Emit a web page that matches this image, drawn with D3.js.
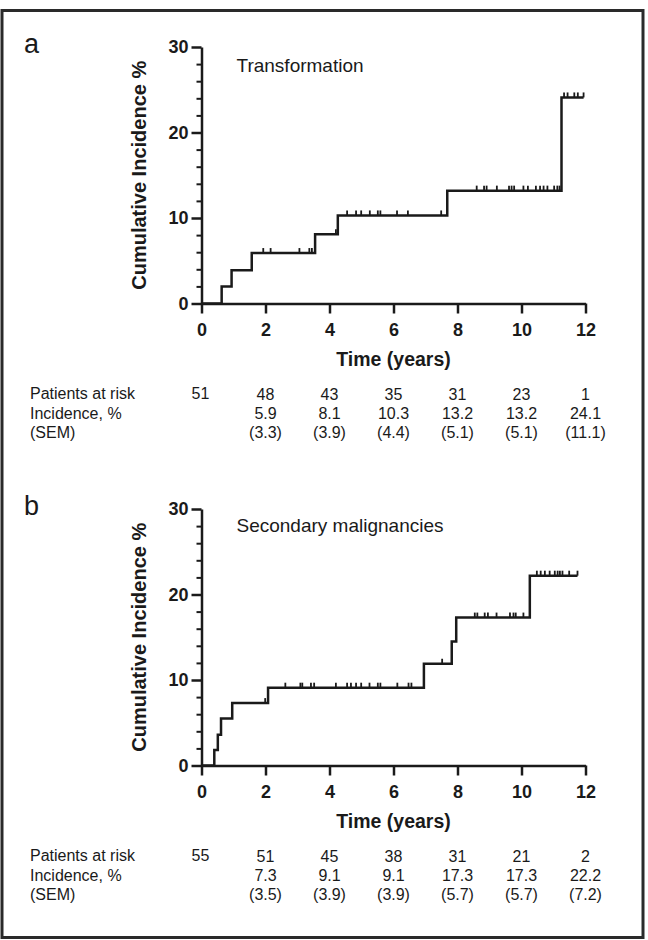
<!DOCTYPE html>
<html><head><meta charset="utf-8">
<script src="https://cdn.jsdelivr.net/npm/d3@7"></script>
<style>
body{margin:0;background:#fff}
svg{display:block}
text{font-family:"Liberation Sans",Arial,Helvetica,sans-serif;fill:#1a1a1a}
</style>
</head><body>
<svg id="chart" width="648" height="940"></svg>
<script>
// ---------- data ----------
const timeTicks = [0, 2, 4, 6, 8, 10, 12];
const yMajorTicks = [0, 10, 20, 30];
const yMinorTicks = [2, 4, 6, 8, 12, 14, 16, 18, 22, 24, 26, 28];
const tableRowLabels = ["Patients at risk", "Incidence, %", "(SEM)"];

// Panel a: Transformation
const aTitle = "Transformation";
const aEventTimes  = [0.63, 0.94, 1.57, 3.55, 4.26, 7.68, 11.25];
const aEventValues = [2.0, 3.9, 5.9, 8.1, 10.3, 13.2, 24.1];
const aEndTime = 11.94;
const aCensorTimes = [1.93, 2.16, 3.06, 3.37, 3.45, 4.20, 4.55, 4.83, 4.99, 5.26, 5.51, 5.59,
  6.11, 6.45, 7.49, 8.60, 8.83, 8.91, 9.23, 9.61, 9.69, 9.77, 10.06, 10.20, 10.45, 10.58,
  10.69, 10.81, 11.02, 11.12, 11.19, 11.33, 11.44, 11.65, 11.76, 11.94];
const aAtRisk = ["51", "48", "43", "35", "31", "23", "1"];
const aIncidence = ["", "5.9", "8.1", "10.3", "13.2", "13.2", "24.1"];
const aSEM = ["", "(3.3)", "(3.9)", "(4.4)", "(5.1)", "(5.1)", "(11.1)"];

// Panel b: Secondary malignancies
const bTitle = "Secondary malignancies";
const bEventTimes  = [0.40, 0.51, 0.61, 0.96, 2.08, 6.95, 7.82, 7.96, 10.26];
const bEventValues = [1.8, 3.6, 5.5, 7.3, 9.1, 11.9, 14.5, 17.3, 22.2];
const bEndTime = 11.75;
const bCensorTimes = [1.99, 2.62, 3.09, 3.15, 3.42, 3.52, 4.20, 4.55, 4.67, 4.83, 4.99, 5.25,
  5.51, 5.59, 6.12, 6.47, 6.56, 7.52, 8.54, 8.62, 8.85, 8.95, 9.22, 9.64, 9.75, 9.82, 10.06,
  10.48, 10.60, 10.73, 10.88, 11.04, 11.13, 11.20, 11.28, 11.49, 11.75];
const bAtRisk = ["55", "51", "45", "38", "31", "21", "2"];
const bIncidence = ["", "7.3", "9.1", "9.1", "17.3", "17.3", "22.2"];
const bSEM = ["", "(3.5)", "(3.9)", "(3.9)", "(5.7)", "(5.7)", "(7.2)"];

// ---------- drawing ----------
const svg = d3.select("#chart");
const ink = "#1a1a1a";

// outer frame
svg.append("rect").attr("x", 2).attr("y", 10.5).attr("width", 641).attr("height", 927)
  .attr("fill", "none").attr("stroke", "#2a2a2a").attr("stroke-width", 3);

function drawPanel(opt) {
  const g = svg.append("g").attr("transform", `translate(0,${opt.dy})`);
  const x = d3.scaleLinear().domain([0, 12]).range([201.5, 585.5]);
  const y = d3.scaleLinear().domain([0, 30]).range([303.5, 47]);

  // panel letter
  g.append("text").attr("x", 24).attr("y", 53).attr("font-size", 27).text(opt.letter);

  // minor y ticks
  g.append("g").attr("transform", `translate(${x(0)},0)`)
    .call(d3.axisLeft(y).tickValues(yMinorTicks).tickSize(5).tickFormat("").tickSizeOuter(0))
    .call(s => s.select(".domain").remove())
    .call(s => s.selectAll("line").attr("stroke", ink).attr("stroke-width", 2));

  // major y axis
  const ya = g.append("g").attr("transform", `translate(${x(0)},0)`)
    .call(d3.axisLeft(y).tickValues(yMajorTicks).tickSize(10).tickPadding(3).tickSizeOuter(0));
  ya.select(".domain").attr("stroke", ink).attr("stroke-width", 2.5);
  ya.selectAll("line").attr("stroke", ink).attr("stroke-width", 2.5);
  ya.selectAll("text").attr("font-size", 18).attr("font-weight", "bold")
    .attr("font-family", '"Liberation Sans",Arial,sans-serif').attr("fill", ink);

  // x axis
  const xa = g.append("g").attr("transform", `translate(0,${y(0)})`)
    .call(d3.axisBottom(x).tickValues(timeTicks).tickSize(10).tickPadding(9.7).tickSizeOuter(0));
  xa.select(".domain").attr("stroke", ink).attr("stroke-width", 2.5);
  xa.selectAll("line").attr("stroke", ink).attr("stroke-width", 2.5);
  xa.selectAll("text").attr("font-size", 18).attr("font-weight", "bold")
    .attr("font-family", '"Liberation Sans",Arial,sans-serif').attr("fill", ink);

  // axis titles
  g.append("text").attr("transform", `translate(146,${(y(0) + y(30)) / 2}) rotate(-90)`)
    .attr("text-anchor", "middle").attr("font-size", 20).attr("font-weight", "bold")
    .text("Cumulative Incidence %");
  g.append("text").attr("x", x(6)).attr("y", 366).attr("text-anchor", "middle")
    .attr("font-size", 19.5).attr("font-weight", "bold").text("Time (years)");

  // chart title
  g.append("text").attr("x", 236.5).attr("y", 72 - opt.titleShift).attr("font-size", 19).text(opt.title);

  // step curve
  const pts = [[0, 0]].concat(opt.times.map((t, i) => [t, opt.values[i]]));
  pts.push([opt.end, opt.values[opt.values.length - 1]]);
  const line = d3.line().x(d => x(d[0])).y(d => y(d[1])).curve(d3.curveStepAfter);
  g.append("path").datum(pts).attr("d", line).attr("fill", "none")
    .attr("stroke", ink).attr("stroke-width", 2.5).attr("stroke-linejoin", "miter");

  // censor marks
  const valueAt = t => {
    let v = 0;
    opt.times.forEach((et, i) => { if (et <= t) v = opt.values[i]; });
    return v;
  };
  g.append("g").selectAll("line").data(opt.censor).join("line")
    .attr("x1", d => x(d)).attr("x2", d => x(d))
    .attr("y1", d => y(valueAt(d))).attr("y2", d => y(valueAt(d)) - 5)
    .attr("stroke", ink).attr("stroke-width", 1.8);

  // risk table
  const rows = [399, 418.5, 438];
  tableRowLabels.forEach((lab, i) => {
    g.append("text").attr("x", 30).attr("y", rows[i]).attr("font-size", 16).text(lab);
  });
  const cols = [opt.atRisk, opt.incidence, opt.sem];
  cols.forEach((arr, r) => {
    g.append("g").selectAll("text").data(arr).join("text")
      .attr("x", (d, i) => i === 0 ? x(0) - 1 : x(timeTicks[i]))
      .attr("y", (d, i) => rows[r] + (r === 0 && i > 0 ? 1 : 0))
      .attr("text-anchor", "middle").attr("font-size", 16).text(d => d);
  });
}

drawPanel({letter: "a", dy: 0, title: aTitle, titleShift: 0,
  times: aEventTimes, values: aEventValues, end: aEndTime, censor: aCensorTimes,
  atRisk: aAtRisk, incidence: aIncidence, sem: aSEM});
drawPanel({letter: "b", dy: 462, title: bTitle, titleShift: 2,
  times: bEventTimes, values: bEventValues, end: bEndTime, censor: bCensorTimes,
  atRisk: bAtRisk, incidence: bIncidence, sem: bSEM});
</script>
</body></html>
